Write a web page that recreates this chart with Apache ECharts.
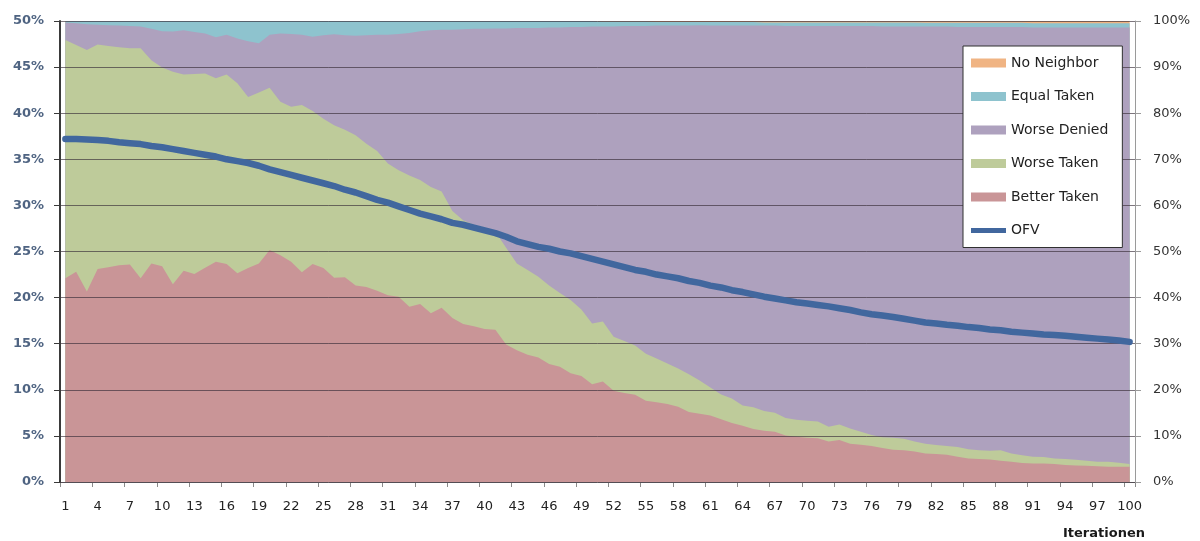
<!DOCTYPE html>
<html>
<head>
<meta charset="utf-8">
<script src="https://cdn.jsdelivr.net/npm/echarts@6/dist/echarts.min.js"></script>
<style>
html,body{margin:0;padding:0;background:#fff;}
#chart{width:1200px;height:541px;}
</style>
</head>
<body>
<div id="chart"></div>
<script>
// Iterations (category axis)
const iterations = [1,2,3,4,5,6,7,8,9,10,11,12,13,14,15,16,17,18,19,20,21,22,23,24,25,26,27,28,29,30,31,32,33,34,35,36,37,38,39,40,41,42,43,44,45,46,47,48,49,50,51,52,53,54,55,56,57,58,59,60,61,62,63,64,65,66,67,68,69,70,71,72,73,74,75,76,77,78,79,80,81,82,83,84,85,86,87,88,89,90,91,92,93,94,95,96,97,98,99,100];

// Upper edge of each band on the right axis (percent, stacked order from bottom)
const betterTakenTop = [44.2,45.6,41.3,46.2,46.6,47.0,47.2,44.2,47.4,46.8,
42.9,45.8,45.1,46.5,47.8,47.3,45.3,46.4,47.4,50.3,
49.2,47.8,45.5,47.3,46.4,44.3,44.4,42.6,42.3,41.5,
40.5,40.2,38.0,38.6,36.6,37.8,35.6,34.3,33.8,33.2,
33.0,29.8,28.6,27.6,27.0,25.6,25.0,23.6,23.0,21.2,
21.8,19.8,19.3,18.9,17.6,17.3,16.9,16.3,15.2,14.8,
14.4,13.6,12.8,12.2,11.5,11.1,10.9,10.1,9.8,9.6,
9.5,8.8,9.1,8.3,8.1,7.8,7.4,7.0,6.9,6.6,
6.2,6.1,5.9,5.5,5.1,5.0,4.9,4.6,4.4,4.1,
4.0,4.0,3.9,3.7,3.6,3.5,3.4,3.3,3.3,3.3];

const worseTakenTop = [95.9,94.8,93.7,94.9,94.6,94.3,94.1,94.1,91.5,89.9,
89.0,88.4,88.5,88.6,87.6,88.4,86.5,83.5,84.5,85.5,
82.5,81.4,81.8,80.5,78.8,77.4,76.4,75.2,73.4,71.8,
69.1,67.6,66.5,65.5,64.0,63.0,58.8,56.8,55.8,55.2,
54.3,50.8,47.4,46.0,44.5,42.6,41.0,39.5,37.4,34.4,
34.8,31.5,30.6,29.6,27.8,26.8,25.7,24.6,23.4,22.0,
20.5,19.0,18.1,16.6,16.2,15.4,15.0,13.9,13.5,13.3,
13.1,12.0,12.5,11.6,10.9,10.2,9.7,9.6,9.4,8.8,
8.3,8.0,7.8,7.6,7.1,6.9,6.8,6.9,6.2,5.8,
5.5,5.4,5.1,5.0,4.8,4.6,4.4,4.4,4.2,3.9];

const worseDeniedTop = [99.7,99.5,99.3,99.2,99.1,99.0,98.9,98.8,98.3,97.8,
97.7,98.0,97.6,97.3,96.5,97.0,96.2,95.6,95.2,97.0,
97.3,97.2,97.0,96.6,96.9,97.1,96.9,96.8,96.9,97.0,
97.0,97.2,97.4,97.8,98.0,98.1,98.1,98.2,98.3,98.3,
98.4,98.4,98.5,98.5,98.5,98.6,98.6,98.7,98.7,98.8,
98.8,98.8,98.9,98.9,98.9,99.0,99.0,99.0,99.0,99.1,
99.0,99.0,99.0,99.0,99.0,99.0,99.0,98.9,98.9,98.9,
98.9,98.9,98.9,98.9,98.9,98.9,98.8,98.8,98.8,98.8,
98.8,98.8,98.8,98.7,98.7,98.7,98.7,98.7,98.7,98.7,
98.6,98.6,98.6,98.6,98.6,98.6,98.6,98.6,98.6,98.6];

const equalTakenTop = [100,100,100,100,100,100,100,100,100,100,
100,100,100,100,100,100,100,100,100,100,
100,100,100,100,100,100,100,100,100,100,
100,100,100,100,100,100,100,100,100,100,
100,100,100,100,100,100,100,100,100,100,
99.9,99.9,99.9,99.9,99.9,99.8,99.8,99.8,99.8,99.8,
99.8,99.8,99.8,99.8,99.8,99.7,99.7,99.7,99.7,99.7,
99.7,99.7,99.7,99.7,99.7,99.7,99.7,99.7,99.7,99.7,
99.6,99.6,99.6,99.6,99.6,99.6,99.6,99.6,99.6,99.6,
99.5,99.5,99.5,99.5,99.5,99.5,99.5,99.5,99.5,99.5];

const noNeighborTop = [100,100,100,100,100,100,100,100,100,100,
100,100,100,100,100,100,100,100,100,100,
100,100,100,100,100,100,100,100,100,100,
100,100,100,100,100,100,100,100,100,100,
100,100,100,100,100,100,100,100,100,100,
100,100,100,100,100,100,100,100,100,100,
100,100,100,100,100,100,100,100,100,100,
100,100,100,100,100,100,100,100,100,100,
100,100,100,100,100,100,100,100,100,100,
100,100,100,100,100,100,100,100,100,100];

// OFV on the left axis (percent)
const ofv = [37.2,37.2,37.15,37.1,37.0,36.85,36.75,36.65,36.45,36.3,
36.1,35.9,35.7,35.5,35.3,35.0,34.8,34.6,34.3,33.9,
33.6,33.3,33.0,32.7,32.4,32.1,31.7,31.4,31.0,30.6,
30.3,29.9,29.5,29.1,28.8,28.5,28.1,27.9,27.6,27.3,
27.0,26.6,26.1,25.8,25.5,25.3,25.0,24.8,24.5,24.2,
23.9,23.6,23.3,23.0,22.8,22.5,22.3,22.1,21.8,21.6,
21.3,21.1,20.8,20.6,20.35,20.1,19.9,19.7,19.5,19.35,
19.2,19.05,18.85,18.65,18.4,18.2,18.05,17.9,17.7,17.5,
17.3,17.2,17.05,16.95,16.8,16.7,16.55,16.45,16.3,16.2,
16.1,16.0,15.95,15.85,15.75,15.65,15.55,15.45,15.35,15.2];

const FONT = 'DejaVu Sans';
const chart = echarts.init(document.getElementById('chart'), null, {renderer:'canvas'});

function band(name, data, color) {
  return {
    name: name, type: 'line', data: data, yAxisIndex: 1,
    symbol: 'none', showSymbol: false, smooth: false,
    lineStyle: {width: 0, opacity: 0},
    areaStyle: {color: color, opacity: 1},
    itemStyle: {color: color},
    silent: true, z: 2
  };
}

chart.setOption({
  animation: false,
  backgroundColor: '#ffffff',
  title: {
    text: 'Iterationen', left: 1063, top: 527, padding: 0,
    textStyle: {fontFamily: FONT, fontSize: 13, fontWeight: 'bold', color: '#1a1a1a'}
  },
  grid: {left: 60, right: 65, top: 21, bottom: 59, containLabel: false},
  legend: {
    orient: 'vertical', left: 963, top: 46,
    padding: [10, 14, 10, 8],
    backgroundColor: '#ffffff', borderColor: '#303030', borderWidth: 1,
    itemWidth: 35, itemHeight: 9, itemGap: 19.5,
    z: 20,
    textStyle: {fontFamily: FONT, fontSize: 14, color: '#222'},
    data: [
      {name: 'No Neighbor', icon: 'rect'},
      {name: 'Equal Taken', icon: 'rect'},
      {name: 'Worse Denied', icon: 'rect'},
      {name: 'Worse Taken', icon: 'rect'},
      {name: 'Better Taken', icon: 'rect'},
      {name: 'OFV', icon: 'path://M0,0 M35,9 M0,2 L35,2 L35,7 L0,7 Z'}
    ]
  },
  xAxis: {
    type: 'category', data: iterations, boundaryGap: true,
    axisLine: {show: true, lineStyle: {color: '#8a8a8a', width: 1}},
    axisTick: {show: true, interval: 2, length: 5, lineStyle: {color: '#8a8a8a'}},
    axisLabel: {interval: 2, margin: 18, fontFamily: FONT, fontSize: 13, color: '#222'},
    splitLine: {show: false}
  },
  yAxis: [
    {
      type: 'value', min: 0, max: 50, interval: 5, position: 'left', z: 3,
      axisLine: {show: true, lineStyle: {color: '#3a3a3a', width: 2}},
      axisTick: {show: true, length: 6, lineStyle: {color: '#3a3a3a'}},
      axisLabel: {formatter: '{value}%', margin: 16, fontFamily: FONT, fontSize: 13, fontWeight: 'bold', color: '#4f6482'},
      splitLine: {show: true, lineStyle: {color: 'rgba(55,45,55,0.65)', width: 1}}
    },
    {
      type: 'value', min: 0, max: 100, interval: 10, position: 'right', z: 3,
      axisLine: {show: true, lineStyle: {color: '#9a9a9a', width: 1}},
      axisTick: {show: true, length: 6, lineStyle: {color: '#9a9a9a'}},
      axisLabel: {formatter: '{value}%', margin: 18, fontFamily: FONT, fontSize: 13, color: '#333'},
      splitLine: {show: false}
    }
  ],
  series: [
    band('No Neighbor', noNeighborTop, '#f0b483'),
    band('Equal Taken', equalTakenTop, '#8ec3ce'),
    band('Worse Denied', worseDeniedTop, '#aea1be'),
    band('Worse Taken', worseTakenTop, '#becb9a'),
    band('Better Taken', betterTakenTop, '#c99597'),
    {
      name: 'OFV', type: 'line', data: ofv, yAxisIndex: 0,
      symbol: 'none', showSymbol: false, smooth: false,
      lineStyle: {color: '#41679e', width: 6.5, cap: 'round', join: 'round'},
      itemStyle: {color: '#41679e'},
      z: 10
    }
  ]
});
</script>
</body>
</html>
